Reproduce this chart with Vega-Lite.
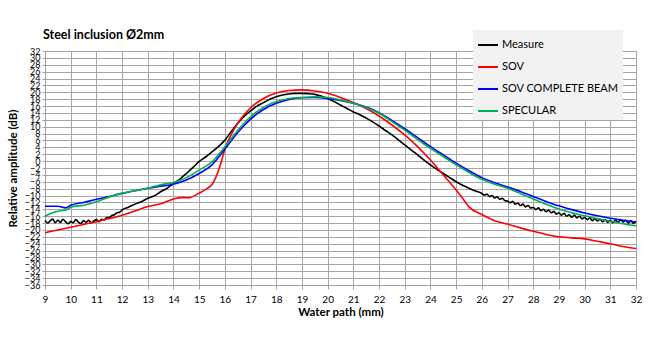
{
  "$schema": "https://vega.github.io/schema/vega-lite/v6.json",
  "width": 591,
  "height": 234,
  "autosize": {"type": "none"},
  "padding": {"left": 45, "top": 51, "right": 29, "bottom": 53},
  "background": "white",
  "title": {"text": "Steel inclusion Ø2mm", "anchor": "start", "frame": "group", "font": "Lato", "fontSize": 12.5, "fontWeight": "bold", "color": "#000000", "offset": 13, "dx": -2, "dy": 24},
  "config": {
    "view": {"stroke": "#a0a0a0", "strokeWidth": 1},
    "font": "Lato"
  },
  "data": {"values": [
    {"x":9.0,"y":-17.2,"s":"Measure"},{"x":9.1,"y":-18.0,"s":"Measure"},{"x":9.2,"y":-17.4,"s":"Measure"},{"x":9.3,"y":-16.8,"s":"Measure"},{"x":9.4,"y":-17.9,"s":"Measure"},{"x":9.5,"y":-17.1,"s":"Measure"},{"x":9.6,"y":-17.8,"s":"Measure"},{"x":9.7,"y":-16.9,"s":"Measure"},{"x":9.8,"y":-17.6,"s":"Measure"},{"x":9.9,"y":-18.2,"s":"Measure"},
    {"x":10.0,"y":-17.5,"s":"Measure"},{"x":10.1,"y":-17.9,"s":"Measure"},{"x":10.2,"y":-17.0,"s":"Measure"},{"x":10.3,"y":-17.7,"s":"Measure"},{"x":10.4,"y":-18.1,"s":"Measure"},{"x":10.5,"y":-17.3,"s":"Measure"},{"x":10.6,"y":-17.8,"s":"Measure"},{"x":10.7,"y":-17.2,"s":"Measure"},{"x":10.8,"y":-17.9,"s":"Measure"},{"x":10.9,"y":-17.4,"s":"Measure"},
    {"x":11.0,"y":-17.0,"s":"Measure"},{"x":11.1,"y":-17.6,"s":"Measure"},{"x":11.2,"y":-16.9,"s":"Measure"},{"x":11.3,"y":-17.1,"s":"Measure"},{"x":11.4,"y":-16.4,"s":"Measure"},{"x":11.5,"y":-16.4,"s":"Measure"},{"x":11.6,"y":-15.8,"s":"Measure"},{"x":11.7,"y":-15.6,"s":"Measure"},{"x":11.8,"y":-15.0,"s":"Measure"},{"x":11.9,"y":-14.9,"s":"Measure"},
    {"x":12.0,"y":-14.2,"s":"Measure"},{"x":12.25,"y":-13.4,"s":"Measure"},{"x":12.5,"y":-12.5,"s":"Measure"},{"x":12.75,"y":-11.8,"s":"Measure"},{"x":13.0,"y":-10.8,"s":"Measure"},{"x":13.25,"y":-10.1,"s":"Measure"},{"x":13.5,"y":-8.9,"s":"Measure"},{"x":13.75,"y":-7.9,"s":"Measure"},{"x":14.0,"y":-6.5,"s":"Measure"},{"x":14.25,"y":-5.2,"s":"Measure"},
    {"x":14.5,"y":-3.6,"s":"Measure"},{"x":14.75,"y":-1.9,"s":"Measure"},{"x":15.0,"y":-0.1,"s":"Measure"},{"x":15.25,"y":1.2,"s":"Measure"},{"x":15.5,"y":2.7,"s":"Measure"},{"x":15.75,"y":4.2,"s":"Measure"},{"x":16.0,"y":6.1,"s":"Measure"},{"x":16.25,"y":8.6,"s":"Measure"},{"x":16.5,"y":11.0,"s":"Measure"},{"x":16.75,"y":13.0,"s":"Measure"},
    {"x":17.0,"y":14.6,"s":"Measure"},{"x":17.25,"y":16.0,"s":"Measure"},{"x":17.5,"y":17.0,"s":"Measure"},{"x":17.75,"y":18.0,"s":"Measure"},{"x":18.0,"y":18.7,"s":"Measure"},{"x":18.25,"y":19.2,"s":"Measure"},{"x":18.5,"y":19.5,"s":"Measure"},{"x":18.75,"y":19.7,"s":"Measure"},{"x":19.0,"y":19.7,"s":"Measure"},{"x":19.25,"y":19.6,"s":"Measure"},
    {"x":19.5,"y":19.4,"s":"Measure"},{"x":19.75,"y":18.9,"s":"Measure"},{"x":20.0,"y":18.2,"s":"Measure"},{"x":20.25,"y":17.3,"s":"Measure"},{"x":20.5,"y":16.3,"s":"Measure"},{"x":20.75,"y":15.3,"s":"Measure"},{"x":21.0,"y":14.3,"s":"Measure"},{"x":21.25,"y":13.5,"s":"Measure"},{"x":21.5,"y":12.5,"s":"Measure"},{"x":21.75,"y":11.4,"s":"Measure"},
    {"x":22.0,"y":10.2,"s":"Measure"},{"x":22.25,"y":8.9,"s":"Measure"},{"x":22.5,"y":7.6,"s":"Measure"},{"x":22.75,"y":6.2,"s":"Measure"},{"x":23.0,"y":4.7,"s":"Measure"},{"x":23.25,"y":3.3,"s":"Measure"},{"x":23.5,"y":1.8,"s":"Measure"},{"x":23.75,"y":0.3,"s":"Measure"},{"x":24.0,"y":-1.1,"s":"Measure"},{"x":24.25,"y":-2.4,"s":"Measure"},
    {"x":24.5,"y":-3.6,"s":"Measure"},{"x":24.75,"y":-4.8,"s":"Measure"},{"x":25.0,"y":-6.0,"s":"Measure"},{"x":25.25,"y":-7.0,"s":"Measure"},{"x":25.5,"y":-7.9,"s":"Measure"},{"x":25.75,"y":-8.7,"s":"Measure"},{"x":26.0,"y":-9.4,"s":"Measure"},
    {"x":26.1,"y":-9.9,"s":"Measure"},{"x":26.2,"y":-9.6,"s":"Measure"},{"x":26.3,"y":-10.3,"s":"Measure"},{"x":26.4,"y":-10.0,"s":"Measure"},{"x":26.5,"y":-10.7,"s":"Measure"},{"x":26.6,"y":-10.4,"s":"Measure"},{"x":26.7,"y":-11.1,"s":"Measure"},{"x":26.8,"y":-10.8,"s":"Measure"},{"x":26.9,"y":-11.5,"s":"Measure"},
    {"x":27.0,"y":-11.6,"s":"Measure"},{"x":27.1,"y":-12.1,"s":"Measure"},{"x":27.2,"y":-11.7,"s":"Measure"},{"x":27.3,"y":-12.5,"s":"Measure"},{"x":27.4,"y":-12.2,"s":"Measure"},{"x":27.5,"y":-12.9,"s":"Measure"},{"x":27.6,"y":-12.5,"s":"Measure"},{"x":27.7,"y":-13.3,"s":"Measure"},{"x":27.8,"y":-12.9,"s":"Measure"},{"x":27.9,"y":-13.6,"s":"Measure"},
    {"x":28.0,"y":-13.5,"s":"Measure"},{"x":28.1,"y":-14.1,"s":"Measure"},{"x":28.2,"y":-13.6,"s":"Measure"},{"x":28.3,"y":-14.4,"s":"Measure"},{"x":28.4,"y":-14.0,"s":"Measure"},{"x":28.5,"y":-14.7,"s":"Measure"},{"x":28.6,"y":-14.2,"s":"Measure"},{"x":28.7,"y":-15.0,"s":"Measure"},{"x":28.8,"y":-14.6,"s":"Measure"},{"x":28.9,"y":-15.4,"s":"Measure"},
    {"x":29.0,"y":-15.0,"s":"Measure"},{"x":29.1,"y":-15.7,"s":"Measure"},{"x":29.2,"y":-15.2,"s":"Measure"},{"x":29.3,"y":-16.0,"s":"Measure"},{"x":29.4,"y":-15.6,"s":"Measure"},{"x":29.5,"y":-16.3,"s":"Measure"},{"x":29.6,"y":-15.7,"s":"Measure"},{"x":29.7,"y":-16.5,"s":"Measure"},{"x":29.8,"y":-16.0,"s":"Measure"},{"x":29.9,"y":-16.8,"s":"Measure"},
    {"x":30.0,"y":-16.4,"s":"Measure"},{"x":30.1,"y":-17.0,"s":"Measure"},{"x":30.2,"y":-16.5,"s":"Measure"},{"x":30.3,"y":-17.3,"s":"Measure"},{"x":30.4,"y":-16.7,"s":"Measure"},{"x":30.5,"y":-17.4,"s":"Measure"},{"x":30.6,"y":-16.9,"s":"Measure"},{"x":30.7,"y":-17.6,"s":"Measure"},{"x":30.8,"y":-17.0,"s":"Measure"},{"x":30.9,"y":-17.8,"s":"Measure"},
    {"x":31.0,"y":-17.2,"s":"Measure"},{"x":31.1,"y":-17.9,"s":"Measure"},{"x":31.2,"y":-17.1,"s":"Measure"},{"x":31.3,"y":-17.8,"s":"Measure"},{"x":31.4,"y":-17.0,"s":"Measure"},{"x":31.5,"y":-17.7,"s":"Measure"},{"x":31.6,"y":-17.2,"s":"Measure"},{"x":31.7,"y":-18.0,"s":"Measure"},{"x":31.8,"y":-17.3,"s":"Measure"},{"x":31.9,"y":-18.1,"s":"Measure"},{"x":32.0,"y":-17.5,"s":"Measure"},

    {"x":9,"y":-20.8,"s":"SOV"},{"x":9.5,"y":-20.0,"s":"SOV"},{"x":10,"y":-19.2,"s":"SOV"},{"x":10.5,"y":-18.4,"s":"SOV"},{"x":11,"y":-17.6,"s":"SOV"},{"x":11.5,"y":-16.7,"s":"SOV"},{"x":12,"y":-15.7,"s":"SOV"},{"x":12.5,"y":-14.5,"s":"SOV"},{"x":13,"y":-13.2,"s":"SOV"},{"x":13.5,"y":-12.4,"s":"SOV"},
    {"x":14,"y":-11.0,"s":"SOV"},{"x":14.3,"y":-10.6,"s":"SOV"},{"x":14.6,"y":-10.6,"s":"SOV"},{"x":15,"y":-9.3,"s":"SOV"},{"x":15.3,"y":-8.0,"s":"SOV"},{"x":15.5,"y":-6.8,"s":"SOV"},{"x":15.7,"y":-3.8,"s":"SOV"},{"x":15.85,"y":-0.5,"s":"SOV"},{"x":16,"y":3.5,"s":"SOV"},{"x":16.25,"y":7.8,"s":"SOV"},
    {"x":16.5,"y":11.0,"s":"SOV"},{"x":16.75,"y":13.5,"s":"SOV"},{"x":17,"y":15.5,"s":"SOV"},{"x":17.5,"y":18.2,"s":"SOV"},{"x":18,"y":19.8,"s":"SOV"},{"x":18.5,"y":20.5,"s":"SOV"},{"x":19,"y":20.7,"s":"SOV"},{"x":19.5,"y":20.4,"s":"SOV"},{"x":20,"y":19.7,"s":"SOV"},{"x":20.5,"y":18.5,"s":"SOV"},
    {"x":21,"y":17.0,"s":"SOV"},{"x":21.5,"y":15.3,"s":"SOV"},{"x":22,"y":13.1,"s":"SOV"},{"x":22.5,"y":10.5,"s":"SOV"},{"x":23,"y":7.6,"s":"SOV"},{"x":23.5,"y":4.2,"s":"SOV"},{"x":24,"y":0.3,"s":"SOV"},{"x":24.5,"y":-4.0,"s":"SOV"},{"x":25,"y":-8.4,"s":"SOV"},{"x":25.3,"y":-11.3,"s":"SOV"},
    {"x":25.5,"y":-13.3,"s":"SOV"},{"x":26,"y":-15.5,"s":"SOV"},{"x":26.5,"y":-17.3,"s":"SOV"},{"x":27,"y":-18.3,"s":"SOV"},{"x":27.5,"y":-19.4,"s":"SOV"},{"x":28,"y":-20.4,"s":"SOV"},{"x":28.5,"y":-21.3,"s":"SOV"},{"x":29,"y":-22.0,"s":"SOV"},{"x":29.5,"y":-22.3,"s":"SOV"},{"x":30,"y":-22.6,"s":"SOV"},
    {"x":30.5,"y":-23.3,"s":"SOV"},{"x":31,"y":-24.0,"s":"SOV"},{"x":31.5,"y":-24.8,"s":"SOV"},{"x":32,"y":-25.4,"s":"SOV"},

    {"x":9,"y":-13.1,"s":"SOV COMPLETE BEAM"},{"x":9.5,"y":-13.1,"s":"SOV COMPLETE BEAM"},{"x":9.8,"y":-13.6,"s":"SOV COMPLETE BEAM"},{"x":10,"y":-12.8,"s":"SOV COMPLETE BEAM"},{"x":10.5,"y":-12.0,"s":"SOV COMPLETE BEAM"},{"x":11,"y":-11.1,"s":"SOV COMPLETE BEAM"},{"x":11.5,"y":-10.3,"s":"SOV COMPLETE BEAM"},{"x":12,"y":-9.4,"s":"SOV COMPLETE BEAM"},{"x":12.5,"y":-8.6,"s":"SOV COMPLETE BEAM"},{"x":13,"y":-7.9,"s":"SOV COMPLETE BEAM"},
    {"x":13.5,"y":-7.3,"s":"SOV COMPLETE BEAM"},{"x":14,"y":-6.7,"s":"SOV COMPLETE BEAM"},{"x":14.5,"y":-5.5,"s":"SOV COMPLETE BEAM"},{"x":15,"y":-3.6,"s":"SOV COMPLETE BEAM"},{"x":15.5,"y":-1.1,"s":"SOV COMPLETE BEAM"},{"x":16,"y":3.5,"s":"SOV COMPLETE BEAM"},{"x":16.5,"y":8.3,"s":"SOV COMPLETE BEAM"},{"x":17,"y":12.2,"s":"SOV COMPLETE BEAM"},{"x":17.5,"y":15.0,"s":"SOV COMPLETE BEAM"},{"x":18,"y":16.8,"s":"SOV COMPLETE BEAM"},
    {"x":18.5,"y":17.9,"s":"SOV COMPLETE BEAM"},{"x":19,"y":18.4,"s":"SOV COMPLETE BEAM"},{"x":19.5,"y":18.5,"s":"SOV COMPLETE BEAM"},{"x":20,"y":18.2,"s":"SOV COMPLETE BEAM"},{"x":20.5,"y":17.6,"s":"SOV COMPLETE BEAM"},{"x":21,"y":16.8,"s":"SOV COMPLETE BEAM"},{"x":21.5,"y":15.7,"s":"SOV COMPLETE BEAM"},{"x":22,"y":14.1,"s":"SOV COMPLETE BEAM"},{"x":22.5,"y":11.8,"s":"SOV COMPLETE BEAM"},{"x":23,"y":9.4,"s":"SOV COMPLETE BEAM"},
    {"x":23.5,"y":6.8,"s":"SOV COMPLETE BEAM"},{"x":24,"y":4.2,"s":"SOV COMPLETE BEAM"},{"x":24.5,"y":1.8,"s":"SOV COMPLETE BEAM"},{"x":25,"y":-0.6,"s":"SOV COMPLETE BEAM"},{"x":25.5,"y":-2.8,"s":"SOV COMPLETE BEAM"},{"x":26,"y":-4.8,"s":"SOV COMPLETE BEAM"},{"x":26.5,"y":-6.3,"s":"SOV COMPLETE BEAM"},{"x":27,"y":-7.5,"s":"SOV COMPLETE BEAM"},{"x":27.5,"y":-8.8,"s":"SOV COMPLETE BEAM"},{"x":28,"y":-10.3,"s":"SOV COMPLETE BEAM"},
    {"x":28.5,"y":-11.7,"s":"SOV COMPLETE BEAM"},{"x":29,"y":-13.0,"s":"SOV COMPLETE BEAM"},{"x":29.5,"y":-14.1,"s":"SOV COMPLETE BEAM"},{"x":30,"y":-15.1,"s":"SOV COMPLETE BEAM"},{"x":30.5,"y":-15.9,"s":"SOV COMPLETE BEAM"},{"x":31,"y":-16.6,"s":"SOV COMPLETE BEAM"},{"x":31.5,"y":-17.2,"s":"SOV COMPLETE BEAM"},{"x":32,"y":-17.7,"s":"SOV COMPLETE BEAM"},

    {"x":9,"y":-16.0,"s":"SPECULAR"},{"x":9.3,"y":-15.0,"s":"SPECULAR"},{"x":9.6,"y":-14.4,"s":"SPECULAR"},{"x":9.8,"y":-14.3,"s":"SPECULAR"},{"x":10,"y":-13.4,"s":"SPECULAR"},{"x":10.5,"y":-12.8,"s":"SPECULAR"},{"x":11,"y":-11.8,"s":"SPECULAR"},{"x":11.5,"y":-10.4,"s":"SPECULAR"},{"x":12,"y":-9.3,"s":"SPECULAR"},{"x":12.5,"y":-8.6,"s":"SPECULAR"},
    {"x":13,"y":-7.9,"s":"SPECULAR"},{"x":13.5,"y":-6.9,"s":"SPECULAR"},{"x":14,"y":-6.2,"s":"SPECULAR"},{"x":14.5,"y":-4.8,"s":"SPECULAR"},{"x":15,"y":-2.6,"s":"SPECULAR"},{"x":15.5,"y":-0.2,"s":"SPECULAR"},{"x":16,"y":4.2,"s":"SPECULAR"},{"x":16.5,"y":9.0,"s":"SPECULAR"},{"x":17,"y":12.9,"s":"SPECULAR"},{"x":17.5,"y":15.6,"s":"SPECULAR"},
    {"x":18,"y":17.3,"s":"SPECULAR"},{"x":18.5,"y":18.2,"s":"SPECULAR"},{"x":19,"y":18.5,"s":"SPECULAR"},{"x":19.5,"y":18.7,"s":"SPECULAR"},{"x":20,"y":18.5,"s":"SPECULAR"},{"x":20.5,"y":17.8,"s":"SPECULAR"},{"x":21,"y":16.8,"s":"SPECULAR"},{"x":21.5,"y":15.6,"s":"SPECULAR"},{"x":22,"y":13.9,"s":"SPECULAR"},{"x":22.5,"y":11.5,"s":"SPECULAR"},
    {"x":23,"y":9.0,"s":"SPECULAR"},{"x":23.5,"y":6.3,"s":"SPECULAR"},{"x":24,"y":3.7,"s":"SPECULAR"},{"x":24.5,"y":1.3,"s":"SPECULAR"},{"x":25,"y":-1.1,"s":"SPECULAR"},{"x":25.5,"y":-3.3,"s":"SPECULAR"},{"x":26,"y":-5.3,"s":"SPECULAR"},{"x":26.5,"y":-6.7,"s":"SPECULAR"},{"x":27,"y":-7.9,"s":"SPECULAR"},{"x":27.5,"y":-9.4,"s":"SPECULAR"},
    {"x":28,"y":-11.0,"s":"SPECULAR"},{"x":28.5,"y":-12.5,"s":"SPECULAR"},{"x":29,"y":-13.9,"s":"SPECULAR"},{"x":29.5,"y":-15.0,"s":"SPECULAR"},{"x":30,"y":-15.9,"s":"SPECULAR"},{"x":30.5,"y":-16.7,"s":"SPECULAR"},{"x":31,"y":-17.5,"s":"SPECULAR"},{"x":31.5,"y":-18.2,"s":"SPECULAR"},{"x":32,"y":-18.8,"s":"SPECULAR"}
  ]},
  "mark": {"type": "line", "strokeWidth": 1.6, "interpolate": "monotone"},
  "encoding": {
    "x": {
      "field": "x", "type": "quantitative",
      "scale": {"domain": [9, 32], "nice": false, "zero": false},
      "axis": {
        "title": "Water path (mm)", "titleFont": "Lato", "titleFontSize": 11.5, "titleFontWeight": "bold", "titleColor": "#000000", "titlePadding": 2,
        "values": [9,10,11,12,13,14,15,16,17,18,19,20,21,22,23,24,25,26,27,28,29,30,31,32],
        "labelFontSize": 10, "labelColor": "#000000", "labelPadding": 5, "labelOverlap": false, "labelFlush": false,
        "grid": true, "gridColor": "#a6a6a6", "gridWidth": 1,
        "domainColor": "#a0a0a0", "tickColor": "#a0a0a0", "tickSize": 4
      }
    },
    "y": {
      "field": "y", "type": "quantitative",
      "scale": {"domain": [-36, 32], "nice": false, "zero": false},
      "axis": {
        "title": "Relative amplitude (dB)", "titleFont": "Lato", "titleFontSize": 11.5, "titleFontWeight": "bold", "titleColor": "#000000", "titlePadding": 6,
        "values": [-36,-34,-32,-30,-28,-26,-24,-22,-20,-18,-16,-14,-12,-10,-8,-6,-4,-2,0,2,4,6,8,10,12,14,16,18,20,22,24,26,28,30,32],
        "labelFontSize": 9, "labelColor": "#000000", "labelPadding": 2, "labelOverlap": false, "labelFlush": false,
        "grid": true, "gridColor": "#a6a6a6", "gridWidth": 1,
        "domainColor": "#a0a0a0", "tickColor": "#a0a0a0", "tickSize": 3
      }
    },
    "color": {
      "field": "s", "type": "nominal",
      "scale": {"domain": ["Measure", "SOV", "SOV COMPLETE BEAM", "SPECULAR"], "range": ["#000000", "#ff0000", "#0000ff", "#00b050"]},
      "legend": {
        "title": null, "orient": "none", "legendX": 428, "legendY": -21,
        "fillColor": "#f2f2f2", "padding": 4, "rowPadding": 6,
        "symbolType": "stroke", "symbolSize": 400, "symbolStrokeWidth": 2,
        "labelFont": "Lato", "labelFontSize": 11, "labelColor": "#000000", "labelOffset": 3, "labelLimit": 200
      }
    }
  }
}
